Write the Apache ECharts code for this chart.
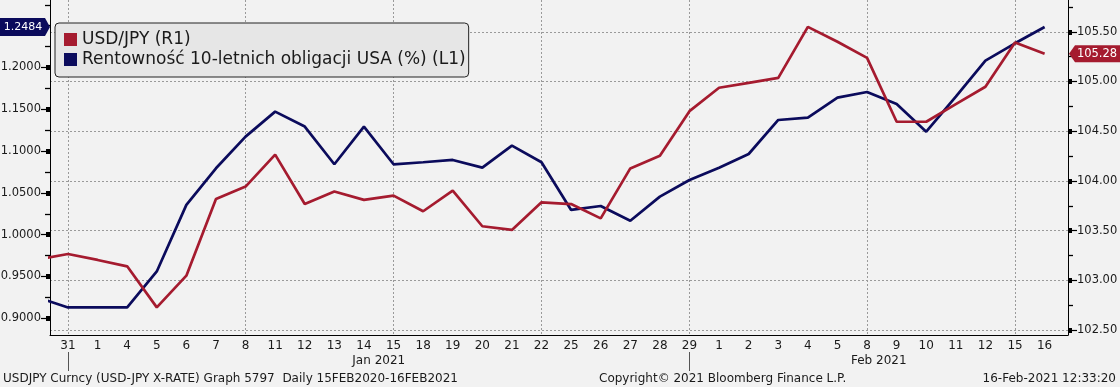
<!DOCTYPE html>
<html><head><meta charset="utf-8">
<script src="https://cdn.jsdelivr.net/npm/echarts@6/dist/echarts.min.js"></script>
<style>html,body{margin:0;padding:0;background:#f2f2f2}#c{width:1120px;height:387px}</style>
</head><body><div id="c"></div>
<script>
// ---- data ----
const days = ['30','31','1','4','5','6','7','8','11','12','13','14','15','18','19','20','21','22','25','26','27','28','29',
              '1','2','3','4','5','8','9','10','11','12','15','16'];
const monthLabels = ['Jan 2021','Feb 2021'];
const usdjpy = [103.211,103.265,103.205,103.141,102.728,103.047,103.819,103.943,104.265,103.768,103.893,103.809,103.852,
                103.695,103.903,103.544,103.507,103.785,103.767,103.623,104.126,104.253,104.702,104.937,104.987,105.037,
                105.55,105.40,105.238,104.595,104.595,104.773,104.947,105.393,105.28];
const yieldUS = [0.9245,0.913,0.913,0.913,0.956,1.0356,1.0794,1.1173,1.1472,1.1293,1.0842,1.1293,1.0842,1.0866,1.0894,
                 1.0802,1.1065,1.0866,1.0296,1.0343,1.0167,1.0455,1.0654,1.0801,1.0965,1.1372,1.140,1.1639,1.1707,
                 1.1563,1.1232,1.165,1.2081,1.2289,1.2484];
const leftTicks = [0.90,0.95,1.00,1.05,1.10,1.15,1.20];
const leftMinor = [0.925,0.975,1.025,1.075,1.125,1.175,1.225,1.25,1.275];
const rightTicks = [102.5,103.0,103.5,104.0,104.5,105.0,105.5];
const rightMinor = [102.75,103.25,103.75,104.25,104.75,105.25,105.75];
const gridDayIdx = [1,7,12,17,22,28,33];
const nameUSD = 'USD/JPY (R1)';
const nameYield = 'Rentowność 10-letnich obligacji USA (%) (L1)';

// ---- chart ----
const FONT = "'DejaVu Sans',sans-serif";
const RED = '#a51b2f', NAVY = '#0b0b5c';
const xMin = 0.392, xMax = 34.79;
const seps = []; days.forEach((d,i)=>{ if (i < days.length-1 && days[i+1]==='1') seps.push(i); });
const monthCenters = seps.map((s,k)=> (s + (k+1<seps.length ? seps[k+1] : xMax))/2);

const chart = echarts.init(document.getElementById('c'), null, {renderer:'canvas'});
function overlayY(pos, min, max, vals, len, w){
  return {type:'value', position:pos, min, max, axisLine:{show:false}, axisLabel:{show:false},
    splitLine:{show:false}, axisTick:{show:true, customValues:vals, length:len, lineStyle:{color:'#000', width:w}}};
}
const lMin=0.88, lMax=1.2807, rMin=102.45, rMax=105.82;
chart.setOption({
  animation:false,
  backgroundColor:'#f2f2f2',
  textStyle:{fontFamily:FONT},
  grid:{left:50, right:52, top:0, bottom:52, containLabel:false, outerBoundsMode:'none'},
  legend:{
    data:[nameUSD, nameYield], orient:'vertical', left:55, top:23, icon:'rect', itemWidth:13, itemHeight:13, itemGap:3,
    padding:[8,3,9,9], backgroundColor:'#e6e6e6', borderColor:'#222', borderWidth:1, borderRadius:4,
    textStyle:{fontFamily:FONT, fontSize:17, color:'#1a1a1a'}
  },
  xAxis:[
    {type:'value', min:xMin, max:xMax, position:'bottom',
      axisLine:{show:true, lineStyle:{color:'#000', width:1}},
      axisTick:{show:false, customValues:gridDayIdx},
      splitLine:{show:true, lineStyle:{color:'#9a9a9a', type:[2,2], width:1}},
      axisLabel:{customValues:days.map((d,i)=>i), formatter:v=>days[Math.round(v)], fontSize:12, color:'#1a1a1a', margin:5, fontFamily:FONT}},
    {type:'value', min:xMin, max:xMax, position:'bottom', offset:17,
      axisLine:{show:false}, splitLine:{show:false},
      axisTick:{show:true, customValues:seps, length:19, lineStyle:{color:'#555', width:1}},
      axisLabel:{customValues:monthCenters, formatter:v=>{let k=0,b=1e9;monthCenters.forEach((c,i)=>{if(Math.abs(c-v)<b){b=Math.abs(c-v);k=i;}});return monthLabels[k];},
        fontSize:12, color:'#1a1a1a', margin:3, fontFamily:FONT}}
  ],
  yAxis:[
    {type:'value', position:'left', min:lMin, max:lMax,
      axisLine:{show:true, lineStyle:{color:'#000', width:1}},
      axisTick:{show:true, customValues:leftTicks, length:9, lineStyle:{color:'#000', width:1.2}},
      axisLabel:{customValues:leftTicks, formatter:v=>v.toFixed(4), fontSize:11.5, color:'#1a1a1a', margin:9, fontFamily:FONT},
      splitLine:{show:false}},
    {type:'value', position:'right', min:rMin, max:rMax,
      axisLine:{show:true, lineStyle:{color:'#000', width:1}},
      axisTick:{show:true, customValues:rightTicks, length:9, lineStyle:{color:'#000', width:1.2}},
      axisLabel:{customValues:rightTicks, formatter:v=>v.toFixed(2), fontSize:11.5, color:'#1a1a1a', margin:9, fontFamily:FONT},
      splitLine:{show:true, lineStyle:{color:'#9a9a9a', type:[2,2], width:1}}},
    overlayY('left', lMin, lMax, leftTicks, 4, 5),
    overlayY('right', rMin, rMax, rightTicks, 4, 5),
    overlayY('left', lMin, lMax, leftMinor, 5, 1.3),
    overlayY('right', rMin, rMax, rightMinor, 5, 1.3)
  ],
  series:[
    {name:nameYield, type:'line', xAxisIndex:0, yAxisIndex:0, data:yieldUS.map((v,i)=>[i,v]), showSymbol:false,
      lineStyle:{color:NAVY, width:2.7}, itemStyle:{color:NAVY}, z:3},
    {name:nameUSD, type:'line', xAxisIndex:0, yAxisIndex:1, data:usdjpy.map((v,i)=>[i,v]), showSymbol:false,
      lineStyle:{color:RED, width:2.7}, itemStyle:{color:RED}, z:4}
  ]
});

// last-value tags
const lastY = yieldUS[yieldUS.length-1], lastR = usdjpy[usdjpy.length-1];
const py1 = chart.convertToPixel({yAxisIndex:0}, lastY);
const py2 = chart.convertToPixel({yAxisIndex:1}, lastR);
chart.setOption({graphic:[
  {type:'polygon', shape:{points:[[0,py1-9],[45,py1-9],[50,py1],[45,py1+9],[0,py1+9]]}, style:{fill:NAVY}, z:50},
  {type:'text', x:23, y:py1, style:{text:lastY.toFixed(4), fill:'#fff', font:'11px '+FONT, align:'center', verticalAlign:'middle'}, z:51},
  {type:'polygon', shape:{points:[[1069,py2],[1075,py2-8.5],[1120,py2-8.5],[1120,py2+8.5],[1075,py2+8.5]]}, style:{fill:RED}, z:50},
  {type:'text', x:1097, y:py2, style:{text:lastR.toFixed(2), fill:'#fff', font:'11.5px '+FONT, align:'center', verticalAlign:'middle'}, z:51},
  {type:'text', x:3, y:379, style:{text:'USDJPY Curncy (USD-JPY X-RATE) Graph 5797  Daily 15FEB2020-16FEB2021', fill:'#1a1a1a', font:'12px '+FONT, verticalAlign:'middle'}},
  {type:'text', x:599, y:379, style:{text:'Copyright\u00a9 2021 Bloomberg Finance L.P.', fill:'#1a1a1a', font:'12px '+FONT, verticalAlign:'middle'}},
  {type:'text', x:1116, y:379, style:{text:'16-Feb-2021 12:33:20', fill:'#1a1a1a', font:'12px '+FONT, align:'right', verticalAlign:'middle'}}
]});
</script></body></html>
